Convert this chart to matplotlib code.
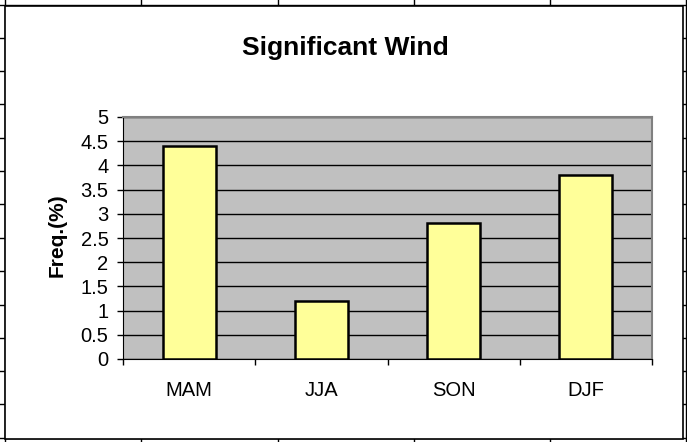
import matplotlib.pyplot as plt
from matplotlib.patches import Rectangle

plt.rcParams['font.family'] = ['Liberation Sans', 'DejaVu Sans']

seasons = ['MAM', 'JJA', 'SON', 'DJF']
freq = [4.4, 1.2, 2.8, 3.8]
y_ticks = [0, 0.5, 1, 1.5, 2, 2.5, 3, 3.5, 4, 4.5, 5]

W, H = 687, 442
fig = plt.figure(figsize=(W / 100, H / 100), dpi=100)

# spreadsheet cell grid behind the chart
bg = fig.add_axes([0, 0, 1, 1])
bg.set_xlim(0, W)
bg.set_ylim(H, 0)
bg.axis('off')
for x in [5, 141, 278, 414, 550, 686]:
    bg.axvline(x, color='black', lw=1)
for y in [5, 38, 71, 104, 138, 171, 204, 238, 271, 305, 338, 371, 404, 438]:
    bg.axhline(y, color='black', lw=1)

# chart area box
bg.add_patch(Rectangle((5, 6), 678, 433, facecolor='white', edgecolor='black', lw=1.2, zorder=3))


def fx(px):
    return px / W


def fy(py):
    return 1 - py / H


left, right, top, bottom = 123, 652, 117, 359
ax = fig.add_axes([fx(left), fy(bottom), fx(right) - fx(left), fy(top) - fy(bottom)])
ax.set_facecolor('#C0C0C0')
x = range(len(seasons))
ax.bar(x, freq, width=0.4, color='#FFFF99', edgecolor='black', linewidth=1.8, zorder=3)
ax.set_xlim(-0.5, 3.5)
ax.set_ylim(0, 5)
ax.set_yticks(y_ticks)
ax.set_yticklabels([f'{t:g}' for t in y_ticks], fontsize=14.5)
ax.yaxis.grid(True, color='black', lw=1, zorder=1)
ax.set_axisbelow(True)
ax.set_xticks([-0.5, 0.5, 1.5, 2.5, 3.5])
ax.set_xticklabels([])
ax.set_xticks(list(x), minor=True)
ax.set_xticklabels(seasons, minor=True, fontsize=14.5)
ax.tick_params(axis='x', which='minor', length=0, pad=16)
ax.tick_params(axis='x', which='major', length=4.5, width=1, direction='out')
ax.tick_params(axis='y', length=4.5, width=1, direction='out', pad=6)
for side in ['top', 'right']:
    ax.spines[side].set_color('#808080')
    ax.spines[side].set_linewidth(1.5)
ax.spines['left'].set_color('black')
ax.spines['bottom'].set_color('black')

fig.text(fx(57), fy(235), 'Freq.(%)', fontsize=15, fontweight='bold',
         rotation=90, ha='center', va='center')
fig.text(fx(345), fy(48), 'Significant Wind', fontsize=19, fontweight='bold',
         ha='center', va='center')

fig.savefig('out.png', dpi=100)
